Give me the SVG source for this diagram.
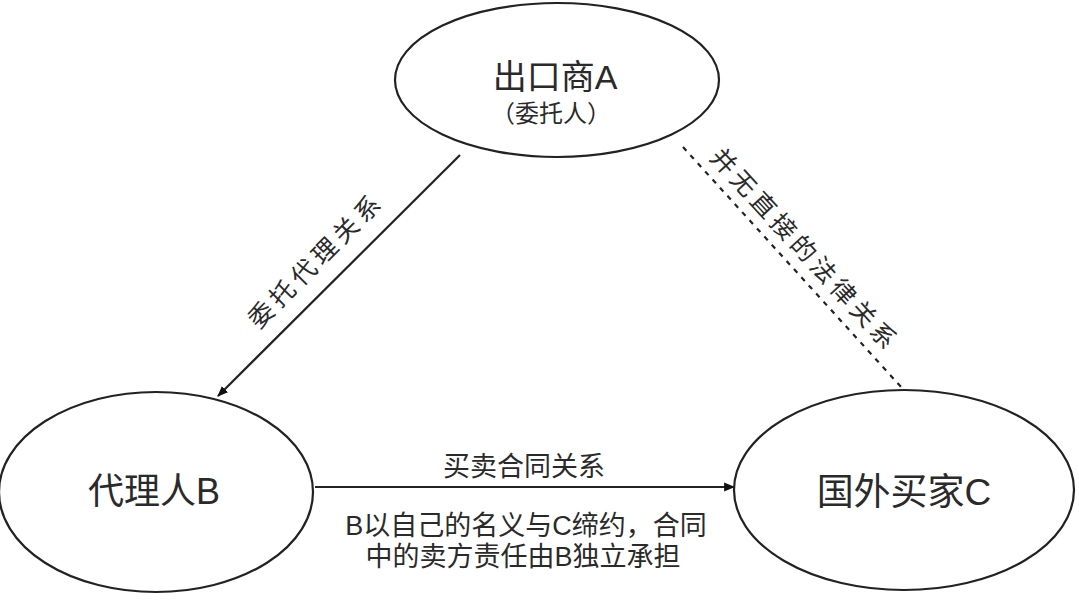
<svg xmlns="http://www.w3.org/2000/svg" width="1079" height="600" viewBox="0 0 1079 600">
<style>
.node{fill:#fff;stroke:#222;stroke-width:2.2}
.t{font-family:"Liberation Sans","Noto Sans CJK SC",sans-serif;fill:#2a2a2a;text-anchor:middle;dominant-baseline:central}
.edge{stroke:#222;stroke-width:2.2;fill:none}
</style>
<defs>
<marker id="arr" viewBox="0 0 10 10" refX="9" refY="5" markerWidth="5" markerHeight="5" orient="auto" markerUnits="strokeWidth">
<path d="M0,1 L10,5 L0,9 z" fill="#111"/>
</marker>
</defs>
<rect width="1079" height="600" fill="#fff"/>
<g id="connectors">
<line class="edge" x1="460" y1="155" x2="218" y2="396" marker-end="url(#arr)"/>
<line class="edge" x1="683" y1="147" x2="902" y2="388" stroke-dasharray="5,6"/>
<line class="edge" x1="315" y1="487" x2="734" y2="487" marker-end="url(#arr)"/>
<text class="t" font-size="25" letter-spacing="5" transform="translate(316,260) rotate(-45)">委托代理关系</text>
<text class="t" font-size="25" letter-spacing="4.5" transform="translate(805,250) rotate(47.5)">并无直接的法律关系</text>
<text class="t" font-size="27" x="524" y="467">买卖合同关系</text>
<text class="t" font-size="27" x="526" y="526">B以自己的名义与C缔约，合同</text>
<text class="t" font-size="27" x="523" y="557">中的卖方责任由B独立承担</text>
</g>
<g id="nodeA">
<ellipse class="node" cx="557" cy="80" rx="162" ry="77"/>
<text class="t" font-size="34" x="555" y="77">出口商A</text>
<text class="t" font-size="24" x="551" y="113">（委托人）</text>
</g>
<g id="nodeB">
<ellipse class="node" cx="156" cy="492" rx="157" ry="100"/>
<text class="t" font-size="36" x="154" y="491">代理人B</text>
</g>
<g id="nodeC">
<ellipse class="node" cx="904" cy="490" rx="170" ry="100"/>
<text class="t" font-size="37" x="904" y="492">国外买家C</text>
</g>
</svg>
